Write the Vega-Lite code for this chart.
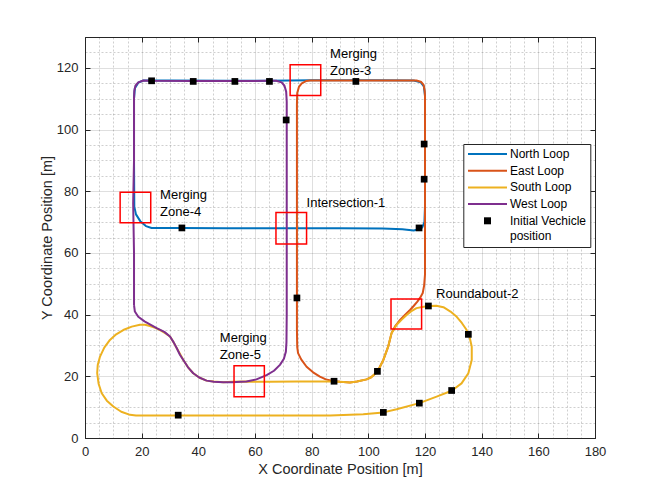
{
  "$schema": "https://vega.github.io/schema/vega-lite/v6.json",
  "width": 510,
  "height": 401,
  "autosize": {"type": "none"},
  "padding": {"left": 85, "top": 37, "right": 61, "bottom": 54},
  "background": "white",
  "config": {
    "font": "Liberation Sans",
    "view": {"stroke": "#262626", "strokeWidth": 1},
    "legend": {
      "orient": "none",
      "legendX": 378.3,
      "legendY": 107,
      "strokeColor": "#262626",
      "fillColor": "white",
      "padding": 4,
      "labelFont": "Liberation Sans",
      "labelFontSize": 12,
      "labelColor": "black",
      "symbolSize": 16,
      "symbolStrokeWidth": 2,
      "rowPadding": 4.7,
      "labelLimit": 200
    }
  },
  "datasets": {
    "paths": [
      {"s": "North Loop", "x": 120, "y": 75},
      {"s": "North Loop", "x": 119.8, "y": 70},
      {"s": "North Loop", "x": 119, "y": 68.2},
      {"s": "North Loop", "x": 117.5, "y": 67.6},
      {"s": "North Loop", "x": 116, "y": 67.3},
      {"s": "North Loop", "x": 112, "y": 67.7},
      {"s": "North Loop", "x": 105, "y": 67.9},
      {"s": "North Loop", "x": 90, "y": 68},
      {"s": "North Loop", "x": 70, "y": 68},
      {"s": "North Loop", "x": 50, "y": 68},
      {"s": "North Loop", "x": 34, "y": 68.1},
      {"s": "North Loop", "x": 26, "y": 68.1},
      {"s": "North Loop", "x": 23.5, "y": 68.1},
      {"s": "North Loop", "x": 21.5, "y": 68.7},
      {"s": "North Loop", "x": 19.5, "y": 70.3},
      {"s": "North Loop", "x": 18, "y": 72.5},
      {"s": "North Loop", "x": 17.4, "y": 75},
      {"s": "North Loop", "x": 17.3, "y": 90},
      {"s": "North Loop", "x": 17.3, "y": 110},
      {"s": "North Loop", "x": 17.6, "y": 113.4},
      {"s": "North Loop", "x": 18.8, "y": 115.2},
      {"s": "North Loop", "x": 20.6, "y": 115.9},
      {"s": "North Loop", "x": 30, "y": 115.9},
      {"s": "North Loop", "x": 50, "y": 115.8},
      {"s": "North Loop", "x": 65, "y": 115.8},
      {"s": "North Loop", "x": 72, "y": 115.9},
      {"s": "North Loop", "x": 80, "y": 116},
      {"s": "North Loop", "x": 100, "y": 116},
      {"s": "North Loop", "x": 116, "y": 115.9},
      {"s": "North Loop", "x": 118.5, "y": 115.3},
      {"s": "North Loop", "x": 119.6, "y": 114},
      {"s": "North Loop", "x": 120, "y": 111},
      {"s": "North Loop", "x": 120, "y": 95},
      {"s": "North Loop", "x": 120, "y": 75},

      {"s": "East Loop", "x": 74.8, "y": 100},
      {"s": "East Loop", "x": 74.8, "y": 108},
      {"s": "East Loop", "x": 74.9, "y": 111.8},
      {"s": "East Loop", "x": 75.5, "y": 113.8},
      {"s": "East Loop", "x": 76.5, "y": 115},
      {"s": "East Loop", "x": 78, "y": 115.7},
      {"s": "East Loop", "x": 79.4, "y": 115.9},
      {"s": "East Loop", "x": 90, "y": 115.9},
      {"s": "East Loop", "x": 105, "y": 115.9},
      {"s": "East Loop", "x": 117, "y": 115.9},
      {"s": "East Loop", "x": 118.7, "y": 115.4},
      {"s": "East Loop", "x": 119.5, "y": 114.5},
      {"s": "East Loop", "x": 119.9, "y": 112.5},
      {"s": "East Loop", "x": 120, "y": 110.7},
      {"s": "East Loop", "x": 120, "y": 95},
      {"s": "East Loop", "x": 120, "y": 80},
      {"s": "East Loop", "x": 120, "y": 60},
      {"s": "East Loop", "x": 120, "y": 53},
      {"s": "East Loop", "x": 119.7, "y": 49.5},
      {"s": "East Loop", "x": 119.2, "y": 47},
      {"s": "East Loop", "x": 118.3, "y": 45.5},
      {"s": "East Loop", "x": 117.3, "y": 44.2},
      {"s": "East Loop", "x": 116, "y": 42.8},
      {"s": "East Loop", "x": 114.7, "y": 41.5},
      {"s": "East Loop", "x": 113, "y": 40},
      {"s": "East Loop", "x": 111.2, "y": 38.3},
      {"s": "East Loop", "x": 109.5, "y": 36.3},
      {"s": "East Loop", "x": 108.2, "y": 34},
      {"s": "East Loop", "x": 107, "y": 29.6},
      {"s": "East Loop", "x": 105.3, "y": 25.3},
      {"s": "East Loop", "x": 103.2, "y": 21.5},
      {"s": "East Loop", "x": 101, "y": 19.7},
      {"s": "East Loop", "x": 99.4, "y": 19},
      {"s": "East Loop", "x": 96, "y": 18.3},
      {"s": "East Loop", "x": 93.5, "y": 18},
      {"s": "East Loop", "x": 90, "y": 18.2},
      {"s": "East Loop", "x": 87.6, "y": 18.5},
      {"s": "East Loop", "x": 85, "y": 19},
      {"s": "East Loop", "x": 82.9, "y": 19.9},
      {"s": "East Loop", "x": 80.5, "y": 21.3},
      {"s": "East Loop", "x": 78.2, "y": 23.1},
      {"s": "East Loop", "x": 76.3, "y": 25.5},
      {"s": "East Loop", "x": 75.2, "y": 27.5},
      {"s": "East Loop", "x": 74.9, "y": 29.5},
      {"s": "East Loop", "x": 74.8, "y": 35},
      {"s": "East Loop", "x": 74.8, "y": 60},
      {"s": "East Loop", "x": 74.8, "y": 100},

      {"s": "South Loop", "x": 20, "y": 7.3},
      {"s": "South Loop", "x": 40, "y": 7.3},
      {"s": "South Loop", "x": 60, "y": 7.3},
      {"s": "South Loop", "x": 86.5, "y": 7.3},
      {"s": "South Loop", "x": 98.2, "y": 7.7},
      {"s": "South Loop", "x": 105.3, "y": 8.3},
      {"s": "South Loop", "x": 110, "y": 9.3},
      {"s": "South Loop", "x": 118, "y": 11.3},
      {"s": "South Loop", "x": 124.1, "y": 13.4},
      {"s": "South Loop", "x": 129.4, "y": 15.3},
      {"s": "South Loop", "x": 132.9, "y": 17.7},
      {"s": "South Loop", "x": 135.3, "y": 21},
      {"s": "South Loop", "x": 136.5, "y": 25.3},
      {"s": "South Loop", "x": 136.5, "y": 29.6},
      {"s": "South Loop", "x": 135.8, "y": 32.5},
      {"s": "South Loop", "x": 134.7, "y": 35},
      {"s": "South Loop", "x": 133, "y": 37.3},
      {"s": "South Loop", "x": 131.2, "y": 39.3},
      {"s": "South Loop", "x": 129, "y": 41},
      {"s": "South Loop", "x": 126.5, "y": 42.4},
      {"s": "South Loop", "x": 124, "y": 42.9},
      {"s": "South Loop", "x": 121.2, "y": 42.8},
      {"s": "South Loop", "x": 119, "y": 42.5},
      {"s": "South Loop", "x": 117, "y": 42.1},
      {"s": "South Loop", "x": 115.2, "y": 41.1},
      {"s": "South Loop", "x": 113.5, "y": 39.9},
      {"s": "South Loop", "x": 111.7, "y": 38.3},
      {"s": "South Loop", "x": 110, "y": 36.7},
      {"s": "South Loop", "x": 108.2, "y": 34},
      {"s": "South Loop", "x": 107, "y": 29.6},
      {"s": "South Loop", "x": 105.3, "y": 25.3},
      {"s": "South Loop", "x": 103.2, "y": 21.5},
      {"s": "South Loop", "x": 101, "y": 19.7},
      {"s": "South Loop", "x": 99.4, "y": 19},
      {"s": "South Loop", "x": 96, "y": 18.3},
      {"s": "South Loop", "x": 93.5, "y": 18},
      {"s": "South Loop", "x": 90, "y": 18.2},
      {"s": "South Loop", "x": 86.5, "y": 18.3},
      {"s": "South Loop", "x": 75, "y": 18.3},
      {"s": "South Loop", "x": 65, "y": 18.2},
      {"s": "South Loop", "x": 57, "y": 18.3},
      {"s": "South Loop", "x": 52, "y": 18.2},
      {"s": "South Loop", "x": 48.8, "y": 18.1},
      {"s": "South Loop", "x": 45.5, "y": 18.3},
      {"s": "South Loop", "x": 42.9, "y": 18.6},
      {"s": "South Loop", "x": 40.3, "y": 19.6},
      {"s": "South Loop", "x": 38.2, "y": 21},
      {"s": "South Loop", "x": 36.3, "y": 23},
      {"s": "South Loop", "x": 34.7, "y": 25.3},
      {"s": "South Loop", "x": 33.5, "y": 27.3},
      {"s": "South Loop", "x": 32.4, "y": 29.1},
      {"s": "South Loop", "x": 31.2, "y": 31.1},
      {"s": "South Loop", "x": 30, "y": 32.9},
      {"s": "South Loop", "x": 28.3, "y": 34},
      {"s": "South Loop", "x": 26.5, "y": 35},
      {"s": "South Loop", "x": 24.8, "y": 35.7},
      {"s": "South Loop", "x": 22.9, "y": 36.3},
      {"s": "South Loop", "x": 21.2, "y": 36.7},
      {"s": "South Loop", "x": 19.4, "y": 36.7},
      {"s": "South Loop", "x": 16.5, "y": 36.1},
      {"s": "South Loop", "x": 13.5, "y": 35},
      {"s": "South Loop", "x": 11, "y": 33.6},
      {"s": "South Loop", "x": 8.8, "y": 31.8},
      {"s": "South Loop", "x": 6.8, "y": 29.3},
      {"s": "South Loop", "x": 5.3, "y": 26.4},
      {"s": "South Loop", "x": 4.5, "y": 23.7},
      {"s": "South Loop", "x": 4.3, "y": 21},
      {"s": "South Loop", "x": 4.8, "y": 17.6},
      {"s": "South Loop", "x": 5.9, "y": 14.5},
      {"s": "South Loop", "x": 7.7, "y": 12.1},
      {"s": "South Loop", "x": 10, "y": 10.2},
      {"s": "South Loop", "x": 12.8, "y": 8.5},
      {"s": "South Loop", "x": 15.9, "y": 7.5},
      {"s": "South Loop", "x": 18, "y": 7.3},
      {"s": "South Loop", "x": 20, "y": 7.3},

      {"s": "West Loop", "x": 17.3, "y": 43.1},
      {"s": "West Loop", "x": 17.6, "y": 41},
      {"s": "West Loop", "x": 18.8, "y": 39.3},
      {"s": "West Loop", "x": 21, "y": 37.8},
      {"s": "West Loop", "x": 25.3, "y": 35.6},
      {"s": "West Loop", "x": 28, "y": 34.4},
      {"s": "West Loop", "x": 30, "y": 32.9},
      {"s": "West Loop", "x": 31.3, "y": 31},
      {"s": "West Loop", "x": 32.4, "y": 29.1},
      {"s": "West Loop", "x": 33.5, "y": 27},
      {"s": "West Loop", "x": 34.7, "y": 25.3},
      {"s": "West Loop", "x": 36.3, "y": 23},
      {"s": "West Loop", "x": 38.2, "y": 21},
      {"s": "West Loop", "x": 40.3, "y": 19.6},
      {"s": "West Loop", "x": 42.9, "y": 18.6},
      {"s": "West Loop", "x": 45.5, "y": 18.2},
      {"s": "West Loop", "x": 48.8, "y": 18.1},
      {"s": "West Loop", "x": 52, "y": 18.1},
      {"s": "West Loop", "x": 55, "y": 18.2},
      {"s": "West Loop", "x": 57, "y": 18.3},
      {"s": "West Loop", "x": 60.5, "y": 19},
      {"s": "West Loop", "x": 64.1, "y": 20.4},
      {"s": "West Loop", "x": 66.7, "y": 21.8},
      {"s": "West Loop", "x": 68.8, "y": 23.7},
      {"s": "West Loop", "x": 70.2, "y": 25.7},
      {"s": "West Loop", "x": 70.9, "y": 28},
      {"s": "West Loop", "x": 71.1, "y": 31},
      {"s": "West Loop", "x": 71.2, "y": 40},
      {"s": "West Loop", "x": 71.2, "y": 60},
      {"s": "West Loop", "x": 71.2, "y": 80},
      {"s": "West Loop", "x": 71.2, "y": 100},
      {"s": "West Loop", "x": 71.2, "y": 109},
      {"s": "West Loop", "x": 71, "y": 112.3},
      {"s": "West Loop", "x": 70.4, "y": 114.2},
      {"s": "West Loop", "x": 69.4, "y": 115.3},
      {"s": "West Loop", "x": 67.5, "y": 115.8},
      {"s": "West Loop", "x": 65, "y": 115.8},
      {"s": "West Loop", "x": 52.9, "y": 115.7},
      {"s": "West Loop", "x": 38.2, "y": 115.7},
      {"s": "West Loop", "x": 23.5, "y": 115.8},
      {"s": "West Loop", "x": 20.6, "y": 115.9},
      {"s": "West Loop", "x": 18.8, "y": 115.3},
      {"s": "West Loop", "x": 17.8, "y": 114.2},
      {"s": "West Loop", "x": 17.4, "y": 112.5},
      {"s": "West Loop", "x": 17.3, "y": 110},
      {"s": "West Loop", "x": 17.3, "y": 90},
      {"s": "West Loop", "x": 17, "y": 76},
      {"s": "West Loop", "x": 17.3, "y": 60},
      {"s": "West Loop", "x": 17.3, "y": 50},
      {"s": "West Loop", "x": 17.3, "y": 43.1}
    ],
    "markers": [
      {"x": 23.5, "y": 115.8},
      {"x": 38.2, "y": 115.6},
      {"x": 52.9, "y": 115.6},
      {"x": 65.1, "y": 115.6},
      {"x": 71, "y": 103.1},
      {"x": 95.6, "y": 115.6},
      {"x": 119.7, "y": 95.3},
      {"x": 119.7, "y": 83.9},
      {"x": 34.2, "y": 68.1},
      {"x": 117.9, "y": 68.1},
      {"x": 74.8, "y": 45.4},
      {"x": 121.2, "y": 42.8},
      {"x": 135.3, "y": 33.6},
      {"x": 129.4, "y": 15.4},
      {"x": 118, "y": 11.3},
      {"x": 105.3, "y": 8.3},
      {"x": 103.2, "y": 21.6},
      {"x": 87.9, "y": 18.4},
      {"x": 32.9, "y": 7.4}
    ],
    "boxes": [
      {"x": 72.4, "x2": 83.2, "y": 111.0, "y2": 121.0},
      {"x": 12.4, "x2": 23.2, "y": 69.8, "y2": 79.7},
      {"x": 67.4, "x2": 78.2, "y": 62.9, "y2": 73.1},
      {"x": 52.6, "x2": 63.3, "y": 13.4, "y2": 23.4},
      {"x": 108.0, "x2": 118.8, "y": 35.3, "y2": 45.1}
    ],
    "labels": [
      {"x": 86.5, "y": 124.4, "t": "Merging\nZone-3"},
      {"x": 26.5, "y": 78.9, "t": "Merging\nZone-4"},
      {"x": 78.2, "y": 76.1, "t": "Intersection-1"},
      {"x": 47.6, "y": 32.3, "t": "Merging\nZone-5"},
      {"x": 123.9, "y": 46.6, "t": "Roundabout-2"}
    ]
  },
  "layer": [
    {
      "data": {"name": "paths"},
      "transform": [{"filter": "datum.s === 'North Loop'"}],
      "mark": {"type": "line", "strokeWidth": 2, "strokeJoin": "round"},
      "encoding": {
        "x": {
          "field": "x", "type": "quantitative",
          "scale": {"domain": [0, 180], "nice": false, "zero": false},
          "axis": {
            "orient": "bottom",
            "title": "X Coordinate Position [m]",
            "titleFont": "Liberation Sans", "titleFontSize": 14.5, "titleFontWeight": "normal", "titleColor": "#262626", "titlePadding": 4,
            "values": [0,5,10,15,20,25,30,35,40,45,50,55,60,65,70,75,80,85,90,95,100,105,110,115,120,125,130,135,140,145,150,155,160,165,170,175,180],
            "labelExpr": "datum.value % 20 === 0 ? datum.label : ''",
            "labelOverlap": false, "labelFlush": false,
            "labelFont": "Liberation Sans", "labelFontSize": 13, "labelColor": "#262626", "labelPadding": 12.5,
            "domain": true, "domainColor": "#262626",
            "ticks": true, "tickSize": -5, "tickColor": "#262626",
            "tickOpacity": {"condition": {"test": "datum.value % 20 === 0", "value": 1}, "value": 0},
            "grid": true, "gridColor": "#262626",
            "gridOpacity": {"condition": {"test": "datum.value % 20 === 0", "value": 0.15}, "value": 0.22},
            "gridDash": {"condition": {"test": "datum.value % 20 === 0", "value": []}, "value": [2, 2]}
          }
        },
        "y": {
          "field": "y", "type": "quantitative",
          "scale": {"domain": [0, 130], "nice": false, "zero": false},
          "axis": {
            "orient": "left",
            "title": "Y Coordinate Position [m]",
            "titleFont": "Liberation Sans", "titleFontSize": 14.5, "titleFontWeight": "normal", "titleColor": "#262626", "titlePadding": 2,
            "values": [0,5,10,15,20,25,30,35,40,45,50,55,60,65,70,75,80,85,90,95,100,105,110,115,120,125,130],
            "labelExpr": "datum.value % 20 === 0 ? datum.label : ''",
            "labelOverlap": false, "labelFlush": false,
            "labelFont": "Liberation Sans", "labelFontSize": 13, "labelColor": "#262626", "labelPadding": 12,
            "domain": true, "domainColor": "#262626",
            "ticks": true, "tickSize": -5, "tickColor": "#262626",
            "tickOpacity": {"condition": {"test": "datum.value % 20 === 0", "value": 1}, "value": 0},
            "grid": true, "gridColor": "#262626",
            "gridOpacity": {"condition": {"test": "datum.value % 20 === 0", "value": 0.15}, "value": 0.22},
            "gridDash": {"condition": {"test": "datum.value % 20 === 0", "value": []}, "value": [2, 2]}
          }
        },
        "order": {"value": null},
        "color": {
          "field": "s", "type": "nominal",
          "scale": {
            "domain": ["North Loop", "East Loop", "South Loop", "West Loop", "Initial Vechicle position"],
            "range": ["#0072BD", "#D95319", "#EDB120", "#7E2F8E", "#000000"]
          },
          "legend": {
            "title": null,
            "labelExpr": "datum.label === 'Initial Vechicle position' ? ['Initial Vechicle', 'position'] : datum.label",
            "encode": {
              "symbols": {
                "update": {
                  "x": {"value": 20.2},
                  "shape": {"signal": "datum.value === 'Initial Vechicle position' ? 'M-1.75,-1.75H1.75V1.75H-1.75Z' : 'M-9.75,0H9.75'"},
                  "fill": {"signal": "datum.value === 'Initial Vechicle position' ? '#000000' : 'transparent'"},
                  "strokeWidth": {"signal": "datum.value === 'Initial Vechicle position' ? 0 : 2"},
                  "opacity": {"value": 1}
                }
              },
              "labels": {
                "update": {"x": {"value": 42.7}, "lineHeight": {"value": 15.7}}
              }
            }
          }
        }
      }
    },
    {
      "data": {"name": "paths"},
      "transform": [{"filter": "datum.s === 'East Loop'"}],
      "mark": {"type": "line", "strokeWidth": 2, "strokeJoin": "round"},
      "encoding": {
        "x": {"field": "x", "type": "quantitative", "axis": null},
        "y": {"field": "y", "type": "quantitative", "axis": null},
        "order": {"value": null},
        "color": {"field": "s", "type": "nominal"}
      }
    },
    {
      "data": {"name": "paths"},
      "transform": [{"filter": "datum.s === 'South Loop'"}],
      "mark": {"type": "line", "strokeWidth": 2, "strokeJoin": "round"},
      "encoding": {
        "x": {"field": "x", "type": "quantitative", "axis": null},
        "y": {"field": "y", "type": "quantitative", "axis": null},
        "order": {"value": null},
        "color": {"field": "s", "type": "nominal"}
      }
    },
    {
      "data": {"name": "paths"},
      "transform": [{"filter": "datum.s === 'West Loop'"}],
      "mark": {"type": "line", "strokeWidth": 2, "strokeJoin": "round"},
      "encoding": {
        "x": {"field": "x", "type": "quantitative", "axis": null},
        "y": {"field": "y", "type": "quantitative", "axis": null},
        "order": {"value": null},
        "color": {"field": "s", "type": "nominal"}
      }
    },
    {
      "data": {"name": "boxes"},
      "mark": {"type": "rect", "filled": false, "stroke": "#FF0000", "strokeWidth": 1.5, "fill": null},
      "encoding": {
        "x": {"field": "x", "type": "quantitative", "axis": null},
        "x2": {"field": "x2"},
        "y": {"field": "y", "type": "quantitative", "axis": null},
        "y2": {"field": "y2"}
      }
    },
    {
      "data": {"name": "markers"},
      "mark": {"type": "point", "shape": "square", "filled": true, "size": 45, "strokeWidth": 0, "opacity": 1},
      "encoding": {
        "x": {
          "field": "x", "type": "quantitative",
          "axis": {"orient": "top", "values": [0,20,40,60,80,100,120,140,160,180], "labels": false, "title": null, "grid": false, "domain": false, "ticks": true, "tickSize": -5, "tickColor": "#262626"}
        },
        "y": {
          "field": "y", "type": "quantitative",
          "axis": {"orient": "right", "values": [0,20,40,60,80,100,120], "labels": false, "title": null, "grid": false, "domain": false, "ticks": true, "tickSize": -5, "tickColor": "#262626"}
        },
        "color": {"datum": "Initial Vechicle position"}
      }
    },
    {
      "data": {"name": "labels"},
      "mark": {"type": "text", "align": "left", "baseline": "middle", "lineBreak": "\n", "lineHeight": 17, "font": "Liberation Sans", "fontSize": 13, "color": "#000000"},
      "encoding": {
        "x": {"field": "x", "type": "quantitative", "axis": null},
        "y": {"field": "y", "type": "quantitative", "axis": null},
        "text": {"field": "t"}
      }
    }
  ]
}
